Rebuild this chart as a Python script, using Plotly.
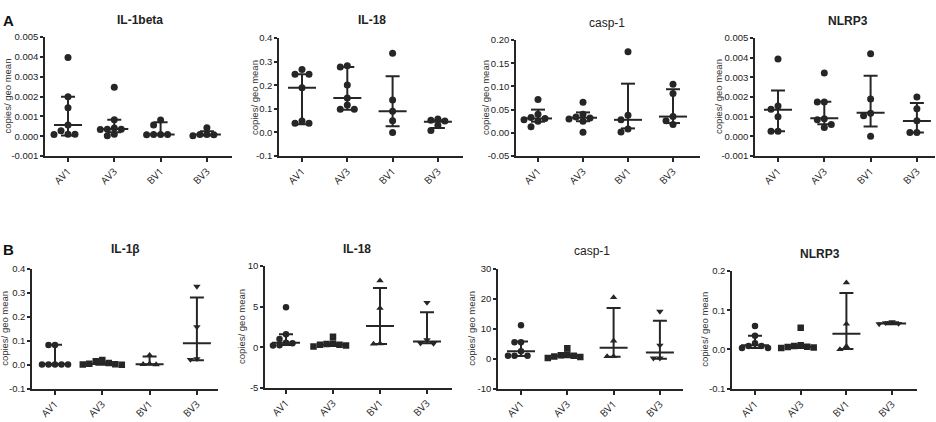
import plotly.graph_objects as go
import numpy as np

groups = ["AV1", "AV3", "BV1", "BV3"]

# ---------- Panel A ----------
a_il1beta_pts = [
    [0.00397, 0.00199, 0.00144, 0.00057, 0.00027, 0.00010, 0.00010, 0.00009],
    [0.00247, 0.00083, 0.00041, 0.00035, 0.00035, 0.00034, 0.00010, 0.00002],
    [0.00082, 0.00057, 0.00009, 0.00008, 0.00008, 0.00007],
    [0.00042, 0.00009, 0.00008, 0.00007, 0.00002],
]
a_il1beta_med = [0.00057, 0.00036, 0.00008, 0.00008]
a_il1beta_q1 = [0.00003, 0.00020, 0.00008, 0.00003]
a_il1beta_q3 = [0.00199, 0.00083, 0.00070, 0.00025]

a_il18_pts = [
    [0.267, 0.247, 0.247, 0.190, 0.048, 0.039, 0.039],
    [0.283, 0.278, 0.201, 0.146, 0.116, 0.098, 0.098],
    [0.336, 0.138, 0.090, 0.050, 0.000],
    [0.057, 0.052, 0.048, 0.030, 0.008],
]
a_il18_med = [0.190, 0.146, 0.090, 0.045]
a_il18_q1 = [0.035, 0.096, 0.026, 0.019]
a_il18_q3 = [0.247, 0.278, 0.238, 0.052]

a_casp1_pts = [
    [0.072, 0.040, 0.033, 0.031, 0.028, 0.025, 0.013],
    [0.066, 0.040, 0.034, 0.032, 0.030, 0.025, 0.001],
    [0.175, 0.038, 0.028, 0.008, 0.002],
    [0.105, 0.085, 0.035, 0.026, 0.018],
]
a_casp1_med = [0.031, 0.0325, 0.028, 0.035]
a_casp1_q1 = [0.024, 0.025, 0.0095, 0.021]
a_casp1_q3 = [0.050, 0.044, 0.106, 0.094]

a_nlrp3_pts = [
    [0.00394, 0.00155, 0.00138, 0.00100, 0.00026, 0.00026],
    [0.00323, 0.00175, 0.00175, 0.00090, 0.00085, 0.00060, 0.00045],
    [0.00420, 0.00190, 0.00118, 0.00105, 0.00000],
    [0.00200, 0.00140, 0.00080, 0.00020, 0.00020],
]
a_nlrp3_med = [0.00136, 0.00092, 0.00120, 0.00078]
a_nlrp3_q1 = [0.00026, 0.00062, 0.00050, 0.00020]
a_nlrp3_q3 = [0.00234, 0.00176, 0.00308, 0.00170]

# ---------- Panel B ----------
b_il1b_pts = [
    [0.083, 0.083, 0.001, 0.001, 0.001, 0.001, 0.001],
    [0.020, 0.015, 0.008, 0.004, 0.002, 0.001, 0.000],
    [0.040, 0.004, 0.002, 0.001],
    [0.327, 0.158, 0.025, 0.022],
]
b_il1b_med = [0.003, 0.003, 0.002, 0.090]
b_il1b_q1 = [0.000, 0.000, 0.001, 0.019]
b_il1b_q3 = [0.084, 0.010, 0.035, 0.281]

b_il18_pts = [
    [4.92, 1.60, 1.00, 0.56, 0.50, 0.25, 0.20],
    [1.30, 0.45, 0.40, 0.30, 0.30, 0.20, 0.10],
    [8.20, 4.80, 0.45, 0.40],
    [5.50, 0.90, 0.50, 0.45],
]
b_il18_med = [0.56, 0.30, 2.60, 0.70]
b_il18_q1 = [0.28, 0.15, 0.40, 0.50]
b_il18_q3 = [1.60, 0.45, 7.30, 4.30]

b_casp1_pts = [
    [11.2, 5.5, 5.5, 2.5, 1.0, 1.0, 1.0],
    [3.5, 1.4, 1.2, 1.0, 0.8, 0.6, 0.3],
    [20.5, 6.0, 0.8, 0.8],
    [15.8, 4.5, 0.2, 0.2],
]
b_casp1_med = [2.5, 1.0, 3.7, 2.1]
b_casp1_q1 = [0.9, 0.5, 0.65, 0.0]
b_casp1_q3 = [5.8, 1.4, 17.0, 12.7]

b_nlrp3_pts = [
    [0.060, 0.035, 0.016, 0.009, 0.009, 0.004, 0.004],
    [0.055, 0.011, 0.009, 0.007, 0.006, 0.005, 0.004],
    [0.170, 0.065, 0.008, 0.000],
    [0.070, 0.068, 0.066, 0.065],
]
b_nlrp3_med = [0.011, 0.007, 0.040, 0.066]
b_nlrp3_q1 = [0.004, 0.004, 0.001, 0.064]
b_nlrp3_q3 = [0.035, 0.011, 0.144, 0.069]

W, H = 936, 422
INK = "#262626"
FONT = "Arial"
CATFONT = "Open Sans"

panels = [
    dict(t="IL-1beta", p=a_il1beta_pts, m=a_il1beta_med, l=a_il1beta_q1, u=a_il1beta_q3,
         yr=(-0.001, 0.005), dt=0.001, fmt="{:.3f}", box=(45, 232, 32, 154), c0=68, sp=46.3,
         tp=(140, 14), yl=8, bold=True, row=0),
    dict(t="IL-18", p=a_il18_pts, m=a_il18_med, l=a_il18_q1, u=a_il18_q3,
         yr=(-0.1, 0.4), dt=0.1, fmt="{:.1f}", box=(279, 463, 33, 154), c0=302, sp=45.3,
         tp=(372, 14), yl=254, bold=True, row=0),
    dict(t="casp-1", p=a_casp1_pts, m=a_casp1_med, l=a_casp1_q1, u=a_casp1_q3,
         yr=(-0.05, 0.20), dt=0.05, fmt="{:.2f}", box=(516, 700, 35, 154), c0=538, sp=45.0,
         tp=(607, 17), yl=485, bold=False, row=0),
    dict(t="NLRP3", p=a_nlrp3_pts, m=a_nlrp3_med, l=a_nlrp3_q1, u=a_nlrp3_q3,
         yr=(-0.001, 0.005), dt=0.001, fmt="{:.3f}", box=(755, 935, 33, 154), c0=778, sp=46.3,
         tp=(848, 15), yl=718, bold=True, row=0),
    dict(t="IL-1β", p=b_il1b_pts, m=b_il1b_med, l=b_il1b_q1, u=b_il1b_q3,
         yr=(-0.1, 0.4), dt=0.1, fmt="{:.1f}", box=(32, 218, 270, 393), c0=55, sp=47.3,
         tp=(125, 250), yl=5, bold=True, row=1),
    dict(t="IL-18", p=b_il18_pts, m=b_il18_med, l=b_il18_q1, u=b_il18_q3,
         yr=(-5, 10), dt=5, fmt="{:.0f}", box=(265, 452, 267, 392), c0=286, sp=47.0,
         tp=(357, 249), yl=242, bold=True, row=1),
    dict(t="casp-1", p=b_casp1_pts, m=b_casp1_med, l=b_casp1_q1, u=b_casp1_q3,
         yr=(-10, 30), dt=10, fmt="{:.0f}", box=(498, 683, 270, 393), c0=521, sp=46.3,
         tp=(592, 252), yl=472, bold=False, row=1),
    dict(t="NLRP3", p=b_nlrp3_pts, m=b_nlrp3_med, l=b_nlrp3_q1, u=b_nlrp3_q3,
         yr=(-0.1, 0.2), dt=0.1, fmt="{:.1f}", box=(732, 917, 272, 393), c0=755, sp=45.7,
         tp=(820, 255), yl=705, bold=True, row=1),
]

symbols_b = ["circle", "square", "triangle-up", "triangle-down"]


def swarm(vals, ppu, diam):
    placed, offs = [], []
    cands = [0.0]
    for i in range(1, 10):
        cands += [-i * diam, i * diam]
    for v in vals:
        y = v * ppu
        chosen = cands[-1]
        for dx in cands:
            if all((dx - px) ** 2 + (y - py) ** 2 >= (diam * 0.9) ** 2 for px, py in placed):
                chosen = dx
                break
        placed.append((chosen, y))
        offs.append(chosen)
    return offs


fig = go.Figure()
annotations = []
axes = {}

for i, pn in enumerate(panels):
    k = i + 1
    xa = "x" if k == 1 else f"x{k}"
    ya = "y" if k == 1 else f"y{k}"
    sfx = "" if k == 1 else str(k)
    x0, x1, yt, yb = pn["box"]
    lo, hi = pn["yr"]
    ppu = (yb - yt) / (hi - lo)
    sp = pn["sp"]
    xr = ((x0 - pn["c0"]) / sp, (x1 - pn["c0"]) / sp)
    diam = 7 if pn["row"] == 0 else 6.5

    lx, ly = [], []
    for g in range(4):
        vals = pn["p"][g]
        offs = swarm(vals, ppu, diam)
        xs = [g + o / sp for o in offs]
        sym = "circle" if pn["row"] == 0 else symbols_b[g]
        fig.add_trace(go.Scatter(
            x=xs, y=vals, mode="markers", xaxis=xa, yaxis=ya, showlegend=False,
            marker=dict(symbol=sym, size=diam, color=INK, line=dict(width=0)),
            hoverinfo="y"))
        hw = 14 / sp
        cw = 7 / sp
        med, q1, q3 = pn["m"][g], pn["l"][g], pn["u"][g]
        lx += [g - hw, g + hw, None, g, g, None, g - cw, g + cw, None, g - cw, g + cw, None]
        ly += [med, med, None, q1, q3, None, q3, q3, None, q1, q1, None]

    fig.add_trace(go.Scatter(x=lx, y=ly, mode="lines", xaxis=xa, yaxis=ya,
                             showlegend=False, line=dict(color=INK, width=2),
                             hoverinfo="skip"))

    tv = [round(v, 6) + 0.0 for v in np.arange(lo, hi + pn["dt"] / 2, pn["dt"])]
    tt = [pn["fmt"].format(v + 0.0) for v in tv]

    axes["xaxis" + sfx] = dict(
        domain=[x0 / W, x1 / W], anchor=ya, range=list(xr),
        tickmode="array", tickvals=[0, 1, 2, 3], ticktext=groups, tickangle=-45,
        showline=True, linecolor=INK, linewidth=1.5, ticks="outside",
        ticklen=4, tickwidth=1.5, tickcolor=INK, showgrid=False, zeroline=False,
        tickfont=dict(family=CATFONT, size=10, color="#222"))
    axes["yaxis" + sfx] = dict(
        domain=[1 - yb / H, 1 - yt / H], anchor=xa, range=[lo, hi],
        tickmode="array", tickvals=tv, ticktext=tt,
        showline=True, linecolor=INK, linewidth=1.5, ticks="outside",
        ticklen=3, tickwidth=1.5, tickcolor=INK, showgrid=False, zeroline=False,
        tickfont=dict(family=FONT, size=9.5, color="#222"))

    tx, ty = pn["tp"]
    ttl = f"<b>{pn['t']}</b>" if pn["bold"] else pn["t"]
    annotations.append(dict(x=tx / W, y=1 - ty / H, xref="paper", yref="paper",
                            text=ttl, showarrow=False, xanchor="center", yanchor="middle",
                            font=dict(family=FONT, size=12, color="#222")))
    annotations.append(dict(x=pn["yl"] / W, y=1 - (yt + yb) / 2 / H, xref="paper", yref="paper",
                            text="copies/ geo mean", textangle=-90, showarrow=False,
                            xanchor="center", yanchor="middle",
                            font=dict(family=FONT, size=9.5, color="#333")))

annotations.append(dict(x=8 / W, y=1 - 15 / H, xref="paper", yref="paper", text="<b>A</b>",
                        showarrow=False, xanchor="center", yanchor="middle",
                        font=dict(family=FONT, size=15, color="#111")))
annotations.append(dict(x=8 / W, y=1 - 250 / H, xref="paper", yref="paper", text="<b>B</b>",
                        showarrow=False, xanchor="center", yanchor="middle",
                        font=dict(family=FONT, size=15, color="#111")))

fig.update_layout(width=W, height=H, margin=dict(l=0, r=0, t=0, b=0),
                  paper_bgcolor="white", plot_bgcolor="white",
                  annotations=annotations, showlegend=False, **axes)

fig.write_html("out.html")
